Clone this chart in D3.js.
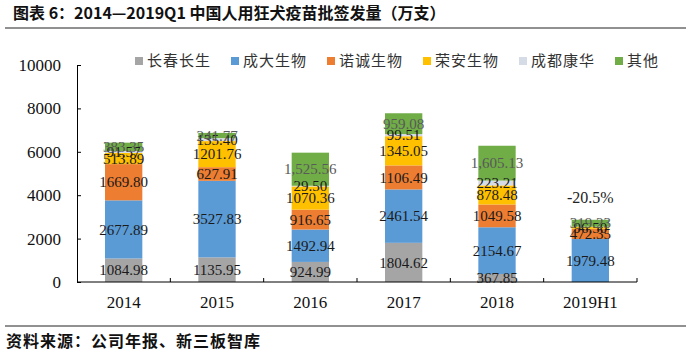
<!DOCTYPE html>
<html>
<head>
<meta charset="utf-8">
<script src="https://cdn.jsdelivr.net/npm/d3@7"></script>
<style>
  body { margin: 0; background: #fff; }
  svg { display: block; }
</style>
</head>
<body>
<div id="chart"></div>
<script>
// chart data (万支)
const categories = ["2014", "2015", "2016", "2017", "2018", "2019H1"];
const seriesNames = ["长春长生", "成大生物", "诺诚生物", "荣安生物", "成都康华", "其他"];
const changchun = [1084.98, 1135.95, 924.99, 1804.62, 367.85, 0];
const chengda = [2677.89, 3527.83, 1492.94, 2461.54, 2154.67, 1979.48];
const nuocheng = [1669.80, 627.91, 916.65, 1106.49, 1049.58, 472.35];
const rongan = [513.89, 1201.76, 1070.36, 1345.05, 878.48, 96.50];
const chengdu = [91.57, 135.40, 29.50, 99.51, 223.21, 0];
const others = [383.35, 241.77, 1525.56, 959.08, 1605.13, 319.23];
const yTicks = [0, 2000, 4000, 6000, 8000, 10000];
const note = "-20.5%";

(function() {
  const width = 691, height = 354;
  const colors = ["#A5A5A5", "#5B9BD5", "#ED7D31", "#FFC000", "#D6DCE5", "#70AD47"];
  const seriesValues = [changchun, chengda, nuocheng, rongan, chengdu, others];

  // build rows for d3.stack
  const rows = categories.map((c, i) => {
    const r = { cat: c };
    seriesNames.forEach((s, j) => r[s] = seriesValues[j][i]);
    return r;
  });

  const svg = d3.select("#chart").append("svg")
    .attr("width", width)
    .attr("height", height);

  // title + rule
  svg.append("text")
    .attr("x", 13)
    .attr("y", 19)
    .attr("font-family", "'Noto Sans CJK SC', sans-serif")
    .attr("font-weight", "bold")
    .attr("font-size", 16)
    .attr("fill", "#111")
    .text("图表 6：2014—2019Q1 中国人用狂犬疫苗批签发量（万支）");
  svg.append("line")
    .attr("x1", 5).attr("x2", 686)
    .attr("y1", 28).attr("y2", 28)
    .attr("stroke", "#222").attr("stroke-width", 1);

  // footer
  svg.append("line")
    .attr("x1", 5).attr("x2", 686)
    .attr("y1", 326).attr("y2", 326)
    .attr("stroke", "#222").attr("stroke-width", 1);
  svg.append("text")
    .attr("x", 6)
    .attr("y", 347)
    .attr("font-family", "'Noto Sans CJK SC', sans-serif")
    .attr("font-weight", "bold")
    .attr("font-size", 16)
    .attr("letter-spacing", 1)
    .attr("fill", "#111")
    .text("资料来源：公司年报、新三板智库");

  const x = d3.scaleBand()
    .domain(categories)
    .range([77, 637])
    .paddingInner(0.6)
    .paddingOuter(0.3);

  const y = d3.scaleLinear()
    .domain([0, 10000])
    .range([282, 65]);

  const stack = d3.stack().keys(seriesNames);
  const layers = stack(rows);

  // bars
  const layer = svg.selectAll("g.layer")
    .data(layers)
    .enter().append("g")
    .attr("class", "layer")
    .attr("fill", (d, i) => colors[i]);

  layer.selectAll("rect")
    .data(d => d)
    .enter().append("rect")
    .attr("x", d => x(d.data.cat))
    .attr("y", d => y(d[1]))
    .attr("width", x.bandwidth())
    .attr("height", d => y(d[0]) - y(d[1]));

  // axes
  svg.append("g")
    .attr("transform", "translate(77,0)")
    .call(d3.axisLeft(y).tickValues(yTicks).tickSize(-4).tickPadding(16).tickFormat(d3.format("d")))
    .call(g => g.select(".domain").attr("stroke", "#000"))
    .call(g => g.selectAll(".tick line").attr("stroke", "#000"))
    .call(g => g.selectAll("text")
      .attr("font-family", "'Liberation Serif', serif")
      .attr("font-size", 17)
      .attr("fill", "#111"));

  // baseline with inward ticks at category boundaries
  const xr = x.range();
  svg.append("line")
    .attr("x1", xr[0]).attr("x2", xr[1])
    .attr("y1", y(0)).attr("y2", y(0))
    .attr("stroke", "#000");
  const bounds = categories.map(c => x(c) - x.step() * x.paddingInner() / 2).concat([xr[1]]);
  svg.selectAll("line.xtick")
    .data(bounds.slice(1))
    .enter().append("line")
    .attr("class", "xtick")
    .attr("x1", d => d).attr("x2", d => d)
    .attr("y1", y(0)).attr("y2", y(0) - 4)
    .attr("stroke", "#000");

  svg.selectAll("text.cat")
    .data(categories)
    .enter().append("text")
    .attr("class", "cat")
    .attr("x", d => x(d) + x.bandwidth() / 2)
    .attr("y", 308)
    .attr("text-anchor", "middle")
    .attr("font-family", "'Liberation Serif', serif")
    .attr("font-size", 17)
    .attr("fill", "#111")
    .text(d => d);

  // data labels
  const fmt = d3.format(".2f"), fmtComma = d3.format(",.2f");
  layers.forEach((ly, i) => {
    svg.append("g").selectAll("text")
      .data(ly.filter(d => d[1] - d[0] > 0))
      .enter().append("text")
      .attr("x", d => x(d.data.cat) + x.bandwidth() / 2)
      .attr("y", d => (y(d[0]) + y(d[1])) / 2)
      .attr("dy", "0.35em")
      .attr("text-anchor", "middle")
      .attr("font-family", "'Liberation Serif', serif")
      .attr("font-size", 15)
      .attr("fill", i === 5 ? "#595959" : "#1a1a1a")
      .text(d => (i === 5 ? fmtComma : fmt)(d[1] - d[0]));
  });

  // change annotation above the last bar
  const lastCat = categories[categories.length - 1];
  svg.append("text")
    .attr("x", x(lastCat) + x.bandwidth() / 2)
    .attr("y", 203)
    .attr("text-anchor", "middle")
    .attr("font-family", "'Liberation Serif', serif")
    .attr("font-size", 16)
    .attr("fill", "#222")
    .text(note);

  // legend
  const legend = svg.selectAll(".legend")
    .data(seriesNames)
    .enter().append("g")
    .attr("class", "legend")
    .attr("transform", (d, i) => `translate(${135 + i * 96},61)`);

  legend.append("rect")
    .attr("x", 0).attr("y", -4)
    .attr("width", 8).attr("height", 8)
    .attr("fill", (d, i) => colors[i]);

  legend.append("text")
    .attr("x", 12)
    .attr("y", 0)
    .attr("dy", "0.35em")
    .attr("font-family", "'Noto Sans CJK SC', sans-serif")
    .attr("font-size", 15)
    .attr("letter-spacing", 1)
    .attr("fill", "#333")
    .text(d => d);
})();
</script>
</body>
</html>
